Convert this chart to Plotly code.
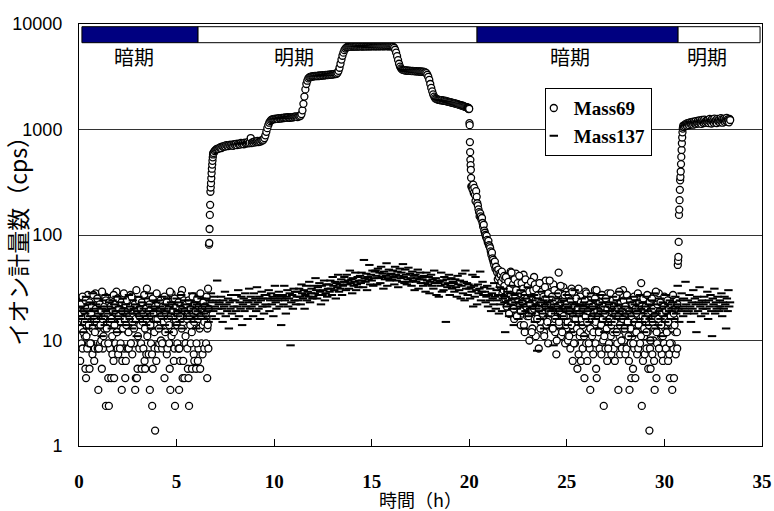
import plotly.graph_objects as go

# ---------------- data ----------------
# light/dark periods (hours)
period_names = ["暗期", "明期", "暗期", "明期"]
period_start = [0.15, 6.1, 20.4, 30.7]
period_end = [6.1, 20.4, 30.7, 34.9]
period_label_x = [2.8, 11.0, 25.15, 32.2]
period_colors = ["#000080", "#ffffff", "#000080", "#ffffff"]

x_ticks = [0, 5, 10, 15, 20, 25, 30, 35]
y_ticks = [1, 10, 100, 1000, 10000]
y_ticklabels = ["1", "10", "100", "1000", "10000"]

# Mass69 (cps), sampled segments: (start time, step, values)
m69_dark1 = [
    15, 19, 6.4, 22, 9.4, 17, 8.4, 25, 14, 18, 11, 5.4, 4.4, 20, 8.4, 27, 12, 9.4, 5.4, 21,
    17, 9.4, 24, 7.4, 19, 15, 6.4, 8.4, 28, 16, 20, 13, 8.4, 3.4, 18, 23, 9.4, 17, 10, 5.4,
    22, 8.4, 19, 13, 9.4, 26, 2.4, 17, 14, 21, 4.4, 2.4, 16, 8.4, 18, 4.4, 24, 7.4, 15, 6.4,
    4.4, 20, 9.4, 17, 29, 12, 8.4, 7.4, 22, 14, 19, 9.4, 15, 3.4, 6.4, 18, 25, 8.4, 16, 4.4,
    6.4, 14, 21, 8.4, 12, 8.4, 19, 15, 27, 9.4, 18, 7.4, 23, 16, 9.4, 20, 3.4, 4.4, 14, 4.4,
    5.4, 17, 22, 8.4, 19, 15, 9.4, 5.4, 24, 16, 8.4, 18, 6.4, 5.4, 21, 7.4, 31, 12, 17, 7.4,
    15, 3.4, 20, 9.4, 18, 2.4, 5.4, 23, 16, 8.4, 1.4, 19, 6.4, 14, 26, 8.4, 17, 9.4, 21, 15,
    10, 18, 8.4, 22, 16, 9.4, 4.4, 19, 13, 25, 7.4, 8.4, 15, 20, 9.4, 5.4, 3.4, 18, 28, 14,
    16, 21, 6.4, 8.4, 2.4, 19, 15, 24, 9.4, 17, 8.4, 3.4, 20, 6.4, 14, 18, 30, 4.4, 6.4, 16,
    4.4, 22, 9.4, 17, 19, 8.4, 5.4, 4.4, 2.4, 15, 21, 9.4, 18, 5.4, 14, 26, 7.4, 6.4, 17, 20,
    5.4, 16, 23, 6.4, 8.4, 19, 15, 5.4, 27, 9.4, 18, 7.4, 21, 14, 8.4, 17, 24, 9.4, 16, 4.4,
]
m69_dark1_b = [
    18, 13, 22, 16, 26, 12, 19, 15, 24, 11, 20, 17, 14, 23, 9.4, 18, 21, 13, 27, 16,
    12, 20, 15, 25, 18, 8.4, 22, 14, 19, 29, 16, 11, 21, 17, 24, 13, 18, 9.4, 23, 15,
    21, 16, 11, 19, 27, 14, 22, 18, 12, 25, 17, 20, 8.4, 15, 23, 19, 13, 28, 16, 22,
    14, 24, 19, 12, 17, 21, 9.4, 26, 15, 18, 13, 22, 16, 30, 19, 11, 24, 17, 14, 20,
    23, 15, 18, 27, 13, 20, 16, 11, 24, 19, 22, 14, 17, 7.4, 25, 18, 12, 21, 16, 28,
    16, 22, 13, 19, 24, 17, 9.4, 21, 15, 26, 12, 18, 23, 16, 20, 14, 29, 17, 11, 22,
    19, 12, 25, 16, 21, 14, 18, 23, 8.4, 17, 27, 13, 20, 15, 24, 19, 11, 22, 16, 18,
    24, 17, 14, 20, 12, 26, 18, 15, 22, 19, 9.4, 25, 16, 21, 13, 28, 17, 20, 14, 23,
    15, 21, 18, 26, 13,
]
m69_rise1 = [14, 31, 8.4, 20, 81, 84, 114, 155, 193, 257, 282, 310, 345, 385, 425, 465, 505, 545, 580, 600]
m69_light1 = [
    600, 625, 640, 650, 660, 655, 670, 680, 665, 690, 685, 700, 690, 710, 700, 695, 715, 705, 720, 710,
    700, 725, 715, 730, 710, 735, 725, 720, 745, 730, 740, 725, 750, 735, 745, 760, 740, 750, 830, 745,
    760, 750, 770, 755, 765, 780, 760, 775, 770, 790, 785, 800, 830, 880, 950, 1030, 1100, 1160, 1200, 1230,
    1245, 1250, 1260, 1255, 1270, 1265, 1260, 1280, 1275, 1270, 1290, 1280, 1285, 1300, 1290, 1295, 1310, 1300, 1290, 1305,
    1310, 1300, 1320, 1315, 1330, 1320, 1310, 1340, 1330, 1350, 1400, 1520, 1750, 2050, 2400, 2700, 2900, 3050, 3120, 3150,
    3170, 3190, 3180, 3200, 3220, 3210, 3230, 3200, 3250, 3240, 3230, 3260, 3270, 3250, 3280, 3290, 3270, 3300, 3310, 3290,
    3320, 3310, 3340, 3330, 3360, 3350, 3380, 3450, 3600, 3850, 4200, 4600, 5000, 5350, 5650, 5850, 5980, 6050, 6080, 6100,
    6120, 6100, 6130, 6110, 6140, 6120, 6150, 6130, 6110, 6140, 6160, 6130, 6150, 6120, 6170, 6140, 6150, 6130, 6160, 6140,
    6150, 6170, 6140, 6160, 6180, 6150, 6170, 6140, 6160, 6190, 6150, 6170, 6160, 6180, 6150, 6170, 6190, 6160, 6180, 6150,
    6170, 6160, 6150, 6140, 6080, 5950, 5700, 5350, 4950, 4550, 4200, 3950, 3800, 3720, 3680, 3650, 3640, 3620, 3630, 3600,
    3610, 3590, 3600, 3580, 3590, 3570, 3580, 3560, 3570, 3550, 3560, 3540, 3550, 3530, 3520, 3530, 3500, 3480, 3420, 3300,
    3150, 2950, 2700, 2480, 2300, 2150, 2050, 1980, 1950, 1930, 1920, 1910, 1900, 1890, 1900, 1880, 1870, 1880, 1860, 1850,
    1840, 1830, 1820, 1810, 1800, 1790, 1780, 1770, 1760, 1750, 1740, 1720, 1710, 1700, 1690, 1680, 1670, 1650, 1640, 1630,
]
m69_fall = [1620, 1600, 1610, 1590, 1580, 1600, 1560, 1590, 1570, 1150, 1100, 760, 610, 516, 460, 415, 348, 288]
m69_decay = [
    290, 270, 300, 250, 280, 240, 210, 260, 230, 200, 190, 175, 165, 150, 160, 150, 140, 145, 130, 120,
    125, 110, 105, 100, 95, 98, 90, 85, 88, 80, 78, 75, 70, 65, 68, 60, 58, 55, 52, 56,
    48, 50, 46, 44, 38, 47, 40, 43, 33, 42, 36, 45, 28, 39, 30, 41, 26, 37, 32, 24,
    34, 22, 41, 27, 18, 31, 45, 25, 36, 20, 29, 38, 16, 33, 24, 43, 27, 19, 32, 26,
    30, 21, 39, 14, 26, 35, 18, 28, 42, 23, 12, 31, 24, 37, 17, 27, 33, 20, 10, 29,
    25, 19, 36, 13, 28, 22, 40, 16, 30, 11, 24, 33, 18, 27, 8.4, 21, 35, 15, 26, 20,
    31, 17, 24, 12, 28, 20, 37, 14, 23, 26, 9.4, 19, 33, 16, 25, 21, 29, 13, 22, 34,
    18, 27, 12, 23, 7.4, 30, 16, 21, 44, 14, 25, 19, 11, 28, 17, 22, 32, 15, 20, 9.4,
    24, 13, 29, 17, 10, 21, 15, 26, 8.4, 19, 31, 14, 6.4, 12, 18, 27, 9.4, 16, 22, 23,
    5.4, 15, 7.4, 20, 11, 26, 6.4, 14, 18, 8.4, 22, 13, 4.4, 17, 29, 9.4, 16, 6.4, 21, 12,
    19, 8.4, 3.4, 15, 25, 11, 17, 7.4, 21, 14, 30, 9.4, 5.4, 4.4, 16, 22, 12, 18, 8.4, 27,
    13, 7.4, 20, 15, 10, 2.4, 24, 17, 8.4, 12, 19, 6.4, 28, 14, 9.4, 21, 16, 11, 7.4, 18,
    23, 12, 8.4, 17, 6.4, 20, 14, 26, 9.4, 15, 3.4, 19, 11, 7.4, 22, 16, 8.4, 13, 30, 18,
    10, 21, 7.4, 15, 8.4, 19, 13, 24, 6.4, 3.4, 16, 9.4, 4.4, 18, 11, 5.4, 20, 8.4, 14, 4.4,
    17, 12, 7.4, 22, 8.4, 15, 26, 9.4, 13, 35, 2.4, 19, 6.4, 16, 11, 7.4, 21, 14, 8.4, 18,
    12, 5.4, 19, 1.4, 8.4, 5.4, 15, 24, 7.4, 17, 10, 6.4, 3.4, 21, 13, 4.4, 9.4, 18, 14, 28,
    16, 8.4, 22, 11, 7.4, 14, 6.4, 19, 9.4, 25, 13, 8.4, 17, 12, 20, 6.4, 15, 7.4, 4.4, 18,
    14, 9.4, 3.4, 20, 8.4, 4.4, 16, 12, 7.4, 24,
]
m69_decay_b = [
    33, 25, 40, 21, 29, 36, 18, 31, 27, 44, 23, 34, 20, 38, 26, 30, 17, 35, 24, 41,
    28, 19, 35, 23, 31, 14, 27, 38, 21, 25, 33, 17, 29, 22, 36, 12, 26, 30, 20, 34,
    24, 31, 16, 27, 20, 35, 13, 23, 29, 18, 26, 11, 32, 21, 25, 15, 28, 19, 37, 22,
    18, 26, 13, 22, 30, 16, 24, 10, 21, 28, 15, 19, 33, 23, 12, 25, 17, 27, 20, 14,
    22, 15, 27, 11, 19, 24, 14, 29, 17, 9.4, 21, 16, 25, 13, 20, 31, 18, 12, 23, 16,
    14, 20, 11, 24, 17, 28, 15, 19, 9.4, 22, 13, 26, 16, 21, 12, 18, 25, 15, 30, 19,
    17, 12, 23, 19, 14, 27, 16, 21, 11, 18, 25, 13, 20, 8.4, 22, 16, 28, 14, 19, 24,
    21, 15, 18, 26, 12, 20, 17, 29, 14, 23, 10, 19, 16, 24, 13, 21, 18, 27, 15, 11,
    19, 24, 13, 17, 22, 9.4, 26, 15, 20, 12, 18, 28, 14, 23, 16, 11, 21, 17, 25, 13,
    16, 21, 12, 27, 18, 14, 23, 10, 19, 25, 15, 20, 13, 17, 29, 12, 22, 16, 8.4, 19,
    23, 14, 18, 11, 21, 26, 16, 19, 12, 24, 15, 20, 9.4, 17, 22, 13, 27, 18, 14, 20,
]
m69_rise2 = [12, 8.4, 22, 52, 57, 62, 86, 155, 174, 214, 268, 330, 355, 400, 470, 550, 640, 740, 840, 940, 1020, 1060, 1090]
m69_light2 = [
    1060, 1100, 1080, 1130, 1110, 1090, 1150, 1120, 1140, 1100, 1170, 1130, 1160, 1120, 1180, 1150, 1110, 1190, 1140, 1160,
    1200, 1130, 1170, 1150, 1210, 1140, 1180, 1220, 1160, 1190, 1130, 1230, 1170, 1200, 1150, 1240, 1180, 1160, 1210, 1190,
    1170, 1230, 1150, 1200, 1260, 1180, 1220, 1140, 1250, 1190, 1210, 1160, 1270, 1200, 1180, 1230, 1150, 1260, 1210, 1190,
    1240, 1170, 1220, 1280, 1190, 1250, 1160, 1230, 1200, 1270, 1180, 1240, 1210, 1290, 1190, 1250, 1220, 1170, 1260, 1230,
]

# Mass137 (cps)
m137_a = [
    17, 21, 14, 19, 24, 16, 12, 20, 18, 26, 15, 22, 13, 19, 17, 23, 16, 28, 14, 20,
    19, 15, 22, 17, 25, 13, 18, 21, 16, 11, 20, 24, 17, 14, 19, 27, 15, 21, 18, 23,
    16, 20, 13, 24, 18, 22, 15, 19, 26, 17, 12, 21, 16, 23, 19, 14, 25, 18, 20, 15,
    22, 17, 19, 14, 27, 16, 21, 18, 13, 24, 20, 15, 18, 22, 11, 19, 26, 17, 21, 16,
    18, 23, 15, 20, 17, 25, 14, 19, 22, 16, 28, 18, 13, 21, 17, 24, 19, 15, 20, 23,
    15, 19, 24, 17, 21, 13, 18, 26, 16, 20, 14, 22, 19, 25, 17, 12, 21, 18, 23, 16,
    20, 16, 22, 18, 14, 25, 19, 17, 23, 15, 21, 27, 18, 13, 20, 16, 24, 19, 22, 17,
    19, 24, 16, 21, 18, 28, 15, 20, 23, 17, 13, 22, 19, 26, 16, 21, 18, 25, 20, 17,
]
m137_b = [
    18, 22, 16, 25, 19, 21, 15, 24, 20, 28, 17, 23, 19, 26, 21, 16, 24, 37, 20, 22,
    23, 18, 26, 20, 15, 24, 21, 29, 17, 22, 19, 25, 13, 23, 20, 27, 18, 24, 21, 16,
    24, 19, 27, 21, 30, 17, 23, 20, 26, 14, 22, 25, 19, 28, 21, 24, 16, 23, 31, 20,
    26, 21, 24, 17, 28, 22, 25, 19, 32, 23, 20, 26, 16, 24, 29, 21, 25, 18, 27, 22,
    27, 21, 25, 30, 19, 24, 28, 22, 26, 17, 25, 33, 23, 20, 27, 24, 29, 21, 26, 14,
    25, 27, 22, 33, 24, 18, 26, 30, 21, 25, 28, 9, 23, 27, 20, 31, 24, 29, 22, 26,
    29, 24, 31, 26, 22, 34, 28, 25, 30, 20, 27, 33, 24, 29, 26, 36, 23, 28, 31, 25,
    26, 33, 28, 39, 30, 25, 32, 27, 35, 29, 22, 33, 27, 30, 37, 24, 28, 34, 26, 31,
    34, 29, 37, 31, 27, 40, 33, 30, 36, 25, 35, 32, 42, 29, 34, 31, 38, 27, 33, 36,
    40, 36, 30, 42, 34, 37, 31, 46, 35, 38, 28, 39, 33, 36, 44, 30, 34, 40, 32, 37,
    41, 35, 44, 37, 32, 58, 39, 36, 43, 30, 40, 38, 52, 34, 42, 37, 46, 33, 39, 45,
    46, 41, 34, 48, 39, 44, 35, 50, 40, 43, 31, 45, 38, 41, 54, 33, 39, 47, 37, 42,
    43, 38, 46, 40, 34, 50, 42, 37, 45, 32, 41, 48, 39, 44, 36, 53, 40, 35, 47, 42,
    34, 38, 49, 36, 43, 39, 33, 45, 37, 41, 30, 42, 36, 39, 47, 31, 38, 44, 35, 40,
    38, 33, 41, 35, 29, 44, 37, 34, 40, 28, 36, 42, 33, 38, 31, 46, 35, 39, 27, 37,
    35, 26, 36, 33, 44, 29, 37, 30, 40, 34, 15, 38, 32, 35, 42, 27, 33, 39, 31, 36,
    35, 29, 38, 32, 26, 41, 34, 30, 37, 25, 33, 43, 28, 36, 24, 46, 31, 35, 27, 34,
    31, 25, 32, 29, 42, 21, 33, 26, 40, 30, 22, 34, 28, 31, 45, 24, 29, 36, 27, 32,
]
m137_c = [
    29, 23, 26, 33, 21, 27, 24, 31, 19, 28, 25, 22, 35, 26, 20, 30, 24, 27, 18, 32,
    22, 27, 19, 25, 31, 23, 12, 26, 21, 29, 24, 17, 28, 22, 33, 20, 25, 14, 27, 23,
    25, 20, 28, 16, 23, 21, 30, 18, 24, 22, 13, 27, 19, 25, 21, 32, 17, 23, 20, 26,
    18, 24, 21, 27, 15, 22, 20, 8, 25, 19, 23, 16, 29, 21, 18, 24, 13, 22, 26, 20,
    23, 17, 21, 26, 19, 14, 24, 20, 9, 22, 18, 28, 16, 21, 25, 19, 23, 13, 20, 17,
    20, 24, 16, 22, 19, 27, 14, 21, 18, 25, 12, 20, 23, 17, 19, 30, 15, 22, 18, 21,
    17, 22, 19, 14, 25, 20, 18, 23, 11, 21, 16, 26, 19, 22, 15, 20, 28, 17, 24, 18,
    21, 16, 24, 18, 13, 20, 22, 17, 27, 19, 15, 23, 18, 12, 21, 25, 16, 19, 14, 22,
    19, 23, 15, 20, 26, 17, 21, 12, 18, 24, 16, 22, 19, 29, 14, 20, 17, 25, 18, 13,
    16, 21, 18, 25, 14, 19, 23, 17, 11, 20, 26, 15, 22, 18, 24, 13, 19, 21, 16, 27,
    20, 15, 23, 18, 12, 21, 17, 26, 14, 19, 22, 16, 10, 20, 24, 17, 15, 28, 18, 13,
    18, 22, 14, 19, 25, 16, 20, 11, 23, 17, 21, 15, 27, 18, 13, 22, 19, 24, 16, 20,
]
m137_d = [
    19, 23, 16, 21, 26, 18, 22, 33, 20, 15, 24, 19, 28, 21, 17, 25, 20, 36, 22, 18,
    24, 19, 27, 21, 15, 23, 20, 30, 18, 25, 22, 12, 26, 19, 23, 32, 21, 17, 24, 20,
    22, 26, 18, 23, 20, 29, 16, 24, 21, 27, 19, 11, 25, 22, 31, 18, 23, 20, 26, 21,
    19, 24, 21, 28, 17, 23, 20, 26, 22, 13, 25, 19, 30, 21, 23,
]

# segment tables: (start hour, sampling step in hours, values)
m69_segments = [
    (0.00, 0.03, m69_dark1),
    (0.02, 0.04, m69_dark1_b),
    (6.60, 0.015, m69_rise1),
    (6.90, 0.05, m69_light1),
    (19.90, 0.012, m69_fall),
    (20.14, 0.03, m69_decay),
    (21.80, 0.04, m69_decay_b),
    (30.64, 0.015, m69_rise2),
    (31.00, 0.03, m69_light2),
]
m137_segments = [
    (0.00, 0.04, m137_a),
    (6.40, 0.04, m137_b),
    (20.80, 0.04, m137_c),
    (30.40, 0.04, m137_d),
]


def build(segments):
    xs, ys = [], []
    for t0, dt, vals in segments:
        for i, v in enumerate(vals):
            xs.append(round(t0 + dt * i, 4))
            ys.append(v)
    return xs, ys


x69, y69 = build(m69_segments)
x137, y137 = build(m137_segments)

# ---------------- figure ----------------
fig = go.Figure()
fig.add_trace(go.Scatter(
    x=x69, y=y69, mode="markers", name="Mass69", legendgroup="g1",
    marker=dict(symbol="circle", size=7, color="white",
                line=dict(color="black", width=1.3)),
))
fig.add_trace(go.Scatter(
    x=x137, y=y137, mode="markers", name="Mass137", legendgroup="g2",
    marker=dict(symbol="line-ew", size=6, color="black",
                line=dict(color="black", width=2)),
))

shapes = []
for s, e, c in zip(period_start, period_end, period_colors):
    shapes.append(dict(type="rect", xref="x", yref="paper", x0=s, x1=e,
                       y0=0.9557, y1=0.9936, fillcolor=c,
                       line=dict(color="black", width=1), layer="above"))

annotations = []
for name, lx in zip(period_names, period_label_x):
    annotations.append(dict(text=name, x=lx, y=0.924, xref="x", yref="paper",
                            showarrow=False, xanchor="center", yanchor="middle",
                            font=dict(family="Noto Sans CJK JP", size=20, color="black")))
annotations.append(dict(text="イオン計量数（cps）", x=-0.091, y=0.50, xref="paper", yref="paper",
                        showarrow=False, textangle=-90, xanchor="center", yanchor="middle",
                        font=dict(family="Noto Sans CJK JP", size=23, color="black")))
annotations.append(dict(text="時間（h）", x=0.5, y=-0.125, xref="paper", yref="paper",
                        showarrow=False, xanchor="center", yanchor="middle",
                        font=dict(family="Noto Sans CJK JP", size=18, color="black")))

fig.update_layout(
    width=774, height=511,
    margin=dict(l=79, r=12, t=24, b=65),
    paper_bgcolor="white", plot_bgcolor="white",
    showlegend=True,
    legend=dict(x=0.682, y=0.848, xanchor="left", yanchor="top",
                bgcolor="white", bordercolor="black", borderwidth=1,
                font=dict(family="Liberation Serif", size=19, color="black", weight="bold"),
                tracegroupgap=0, itemwidth=30, indentation=-12),
    shapes=shapes, annotations=annotations,
    xaxis=dict(range=[0, 35], tickvals=x_ticks, ticks="inside", ticklen=7,
               tickcolor="black", showline=True, mirror=True, linecolor="black",
               linewidth=1, showgrid=False, zeroline=False, ticklabelstandoff=18,
               automargin=False,
               tickfont=dict(family="Liberation Serif", size=19, color="black", weight="bold")),
    yaxis=dict(type="log", range=[0, 4], tickvals=y_ticks, ticktext=y_ticklabels,
               ticks="", showline=True, mirror=True, linecolor="black", linewidth=1,
               showgrid=True, gridcolor="#333333", gridwidth=1, zeroline=False,
               ticklabelstandoff=12, automargin=False,
               tickfont=dict(family="Liberation Sans", size=18, color="black")),
)

fig.write_html("out.html")
